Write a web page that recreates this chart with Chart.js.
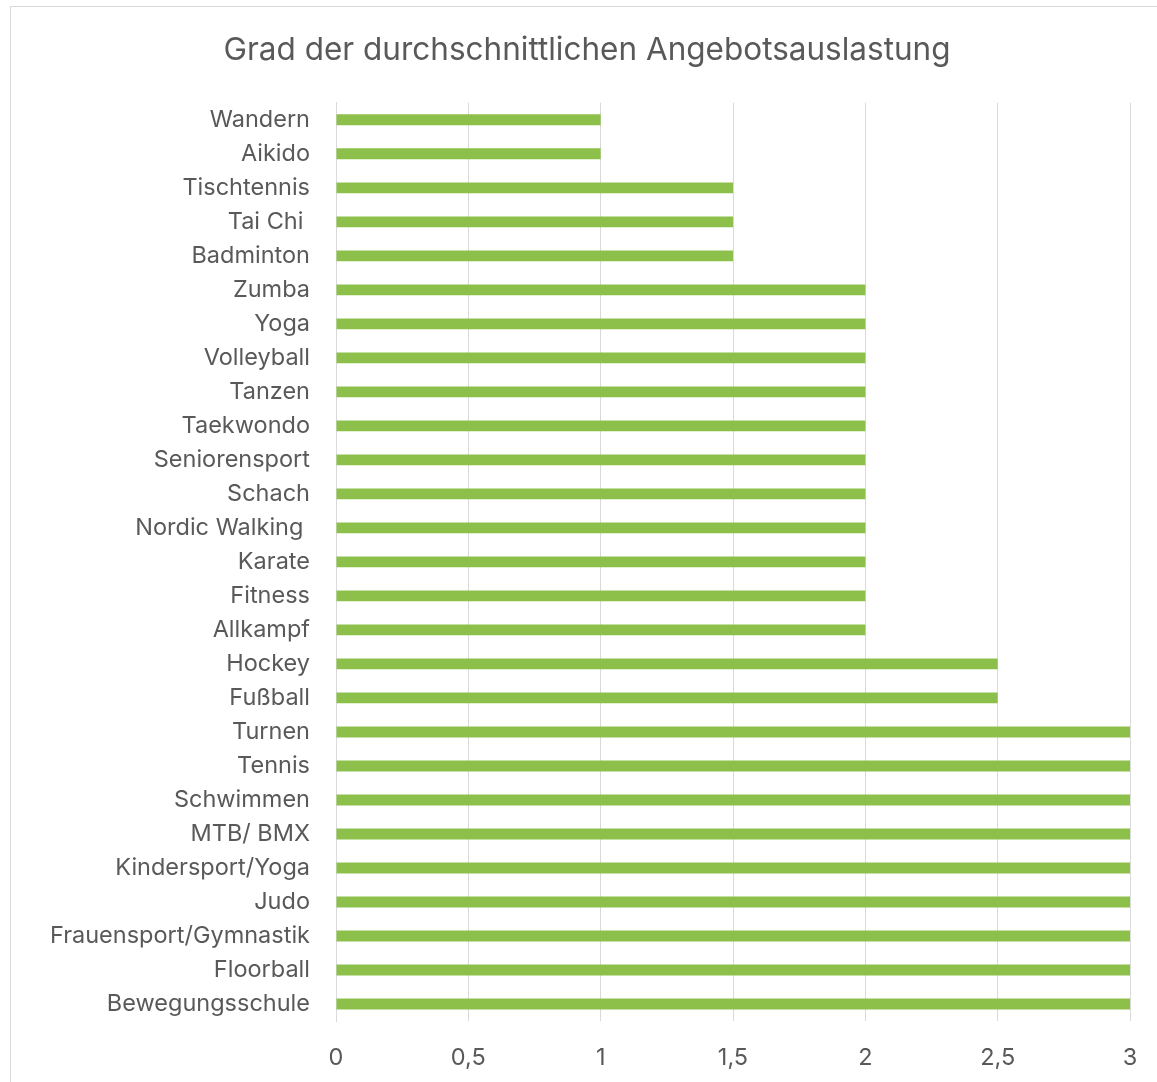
<!DOCTYPE html>
<html>
<head>
<meta charset="utf-8">
<script src="https://cdn.jsdelivr.net/npm/chart.js@4/dist/chart.umd.min.js"></script>
<style>
  html, body { margin: 0; padding: 0; background: #fff; overflow: hidden; }
  #wrap { position: relative; width: 1157px; height: 1082px; }
  #frame { position: absolute; left: 10px; top: 6px; width: 1160px; height: 1090px; border: 1px solid #d9d9d9; }
  #c { position: absolute; left: 0; top: 0; }
</style>
</head>
<body>
<div id="wrap">
  <div id="frame"></div>
  <canvas id="c" width="1157" height="1082"></canvas>
</div>
<script>
var sports = ['Wandern', 'Aikido', 'Tischtennis', 'Tai Chi ', 'Badminton', 'Zumba', 'Yoga',
  'Volleyball', 'Tanzen', 'Taekwondo', 'Seniorensport', 'Schach', 'Nordic Walking ', 'Karate',
  'Fitness', 'Allkampf', 'Hockey', 'Fußball', 'Turnen', 'Tennis', 'Schwimmen', 'MTB/ BMX',
  'Kindersport/Yoga', 'Judo', 'Frauensport/Gymnastik', 'Floorball', 'Bewegungsschule'];
var auslastung = [1, 1, 1.5, 1.5, 1.5, 2, 2, 2, 2, 2, 2, 2, 2, 2, 2, 2, 2.5, 2.5, 3, 3, 3, 3, 3, 3, 3, 3, 3];
var xMin = 0, xMax = 3, xStep = 0.5;

var grau = '#595959';
var linie = '#d9d9d9';
var fontFam = 'Inter, "Open Sans", sans-serif';

var ctx = document.getElementById('c');
var chart = new Chart(ctx, {
  type: 'bar',
  data: {
    labels: sports,
    datasets: [{
      data: auslastung,
      backgroundColor: '#8dc04a',
      borderWidth: 0,
      categoryPercentage: 1,
      barPercentage: 0.32
    }]
  },
  options: {
    indexAxis: 'y',
    responsive: false,
    animation: false,
    layout: { padding: { left: 44, right: 27, top: 0, bottom: 0 } },
    plugins: {
      legend: { display: false },
      tooltip: { enabled: false },
      title: {
        display: true,
        text: 'Grad der durchschnittlichen Angebotsauslastung',
        color: grau,
        font: { family: fontFam, size: 31.5, weight: 'normal' },
        padding: { top: 32, bottom: 33 }
      }
    },
    scales: {
      x: {
        min: xMin,
        max: xMax,
        grid: { color: linie, lineWidth: 1, drawTicks: false },
        border: { display: false },
        ticks: {
          stepSize: xStep,
          color: grau,
          padding: 23,
          font: { family: fontFam, size: 23.5 },
          callback: function(v) { return String(v).replace('.', ','); }
        },
        afterFit: function(scale) {
          scale.height = 61;
          scale.paddingLeft = 0;
          scale.paddingRight = 0;
        }
      },
      y: {
        grid: { display: false, drawTicks: false },
        border: { display: true, color: linie, width: 1 },
        ticks: {
          color: grau,
          padding: 26,
          autoSkip: false,
          font: { family: fontFam, size: 23.5 }
        },
        afterFit: function(scale) { scale.width = 292; }
      }
    }
  }
});
</script>
</body>
</html>
